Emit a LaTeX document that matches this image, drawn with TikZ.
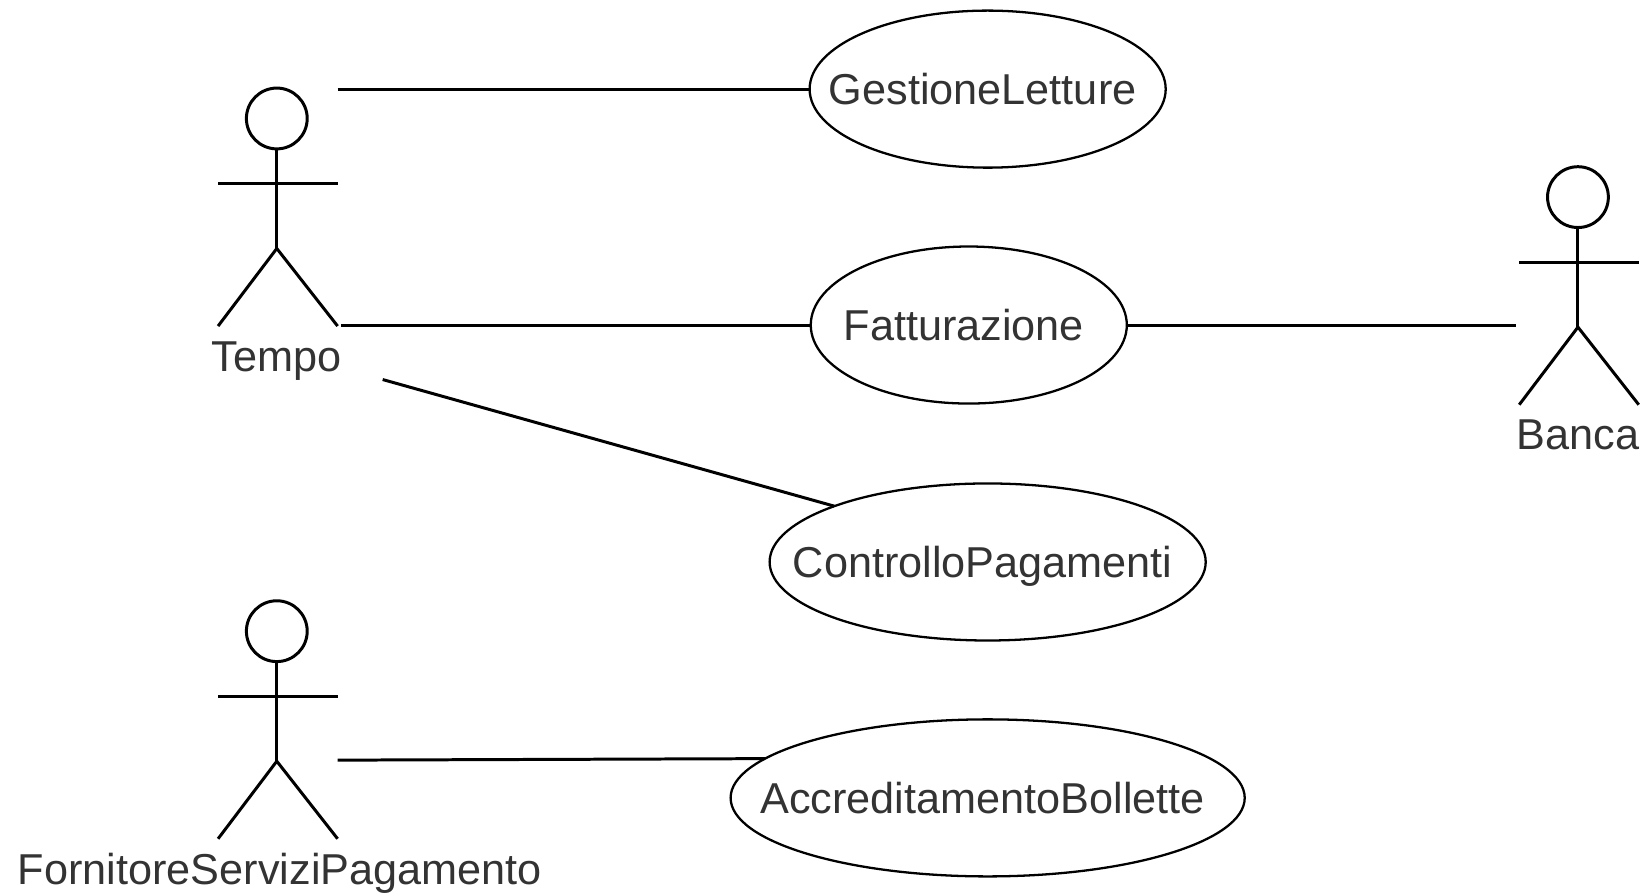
\documentclass[tikz,border=0pt]{standalone}
\usepackage{fontspec}
\setmainfont{Liberation Sans}
\usetikzlibrary{shapes.geometric,positioning,calc}
\newcommand{\uctext}[1]{\makebox[0pt]{#1\hspace{0.1cm}}}
\tikzset{
    usecase/.style={draw, ellipse, line width=0.65pt, inner sep=0pt, outer sep=0pt, minimum height=1.57cm, text=black!80, text depth=0pt},
    actorlabel/.style={inner sep=0pt, text=black!80, text depth=0pt},
    actorline/.style={line width=0.85pt},
    assoc/.style={line width=0.85pt}
}
\begin{document}
\begin{tikzpicture}[x=0.010485cm, y=-0.010485cm, font=\fontsize{12.3}{15}\selectfont]
    \useasboundingbox (0,0) rectangle (1568,852);

    % Actors
    \foreach \n/\x/\y/\t/\tx in {tempo/264/113/Tempo/264, fornitore/264/602/FornitoreServiziPagamento/267, banca/1505/188/Banca/1505} {
        \draw[actorline] (\x,\y) circle (29);
        \draw[actorline] (\x,\y+29) -- (\x,\y+124);
        \draw[actorline] (\x-56,\y+62) -- (\x+58,\y+62);
        \draw[actorline] (\x-56,\y+198) -- (\x,\y+124) -- (\x+58,\y+198);
        \node[actorlabel] (\n) at (\tx,\y+227) {\t};
    }

    % Use cases
    \node[usecase, minimum width=3.56cm] (gestione) at (942,85) {\uctext{GestioneLetture}};
    \node[usecase, minimum width=3.16cm] (fatturazione) at (924,310) {\uctext{Fatturazione}};
    \node[usecase, minimum width=4.36cm] (controllo) at (942,536) {\uctext{ControlloPagamenti}};
    \node[usecase, minimum width=5.14cm] (accredito) at (942,761) {\uctext{AccreditamentoBollette}};

    % Free ends next to the actors
    \coordinate (tempoa) at (322,85);
    \coordinate (tempob) at (325,310);
    \coordinate (tempoc) at (365,362);
    \coordinate (fornitorea) at (322,725);
    \coordinate (bancaa) at (1446,310);

    % Associations
    \draw[assoc] (tempoa) -- (gestione.west);
    \draw[assoc] (tempob) -- (fatturazione.west);
    \draw[assoc] (tempoc) -- (controllo.160);
    \draw[assoc] (fornitorea) -- (accredito.170.8);
    \draw[assoc] (fatturazione.east) -- (bancaa);
\end{tikzpicture}
\end{document}
